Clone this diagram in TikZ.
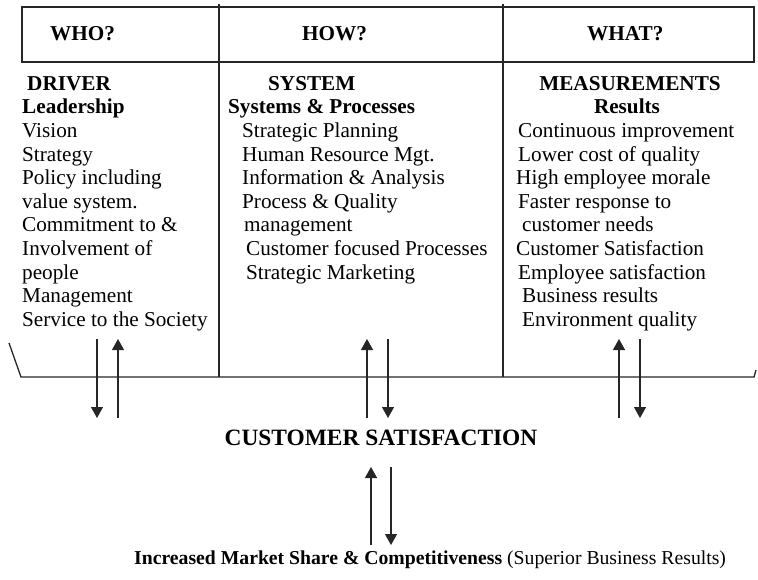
\documentclass[tikz,border=0pt]{standalone}
\usepackage{fontspec}
\setmainfont{Liberation Serif}
\usetikzlibrary{arrows.meta}
\begin{document}
\begin{tikzpicture}[x=1pt,y=-1pt,
  frame/.style={line width=1.3pt, draw=black!85},
  txt/.style={anchor=base west, inner sep=0pt, font=\fontsize{21.2}{24}\selectfont},
  btxt/.style={txt, font=\fontsize{21.2}{24}\selectfont\bfseries},
  flow/.style={line width=1.3pt, draw=black!85, -{Triangle[length=11pt,width=12pt]}}]
\useasboundingbox (0,0) rectangle (758,580);
% header box
\draw[frame] (22,7) rectangle (754,62);
\draw[frame] (219,4) -- (219,377);
\draw[frame] (503,4) -- (503,377);
\draw[frame] (9,343) -- (21,377) -- (754,377) -- (756,370);
% header labels
\node[btxt] (who) at (50,41) {WHO?};
\node[btxt] (how) at (302,41) {HOW?};
\node[btxt] (what) at (587,41) {WHAT?};
% left column
\node[btxt] (l0) at (27,90.5) {DRIVER};
\node[btxt] (l1) at (22,114) {Leadership};
\foreach \t [count=\i from 2] in {Vision,Strategy,Policy including,value system.,Commitment to \&,Involvement of,people,Management,Service to the Society}
  \node[txt] (l\i) at (22,{137.6+(\i-2)*23.6}) {\t};
% middle column
\node[btxt] (m0) at (268,90.5) {SYSTEM};
\node[btxt] (m1) at (228,114) {Systems \& Processes};
\foreach \t/\x [count=\i from 2] in {Strategic Planning/242,Human Resource Mgt./242,Information \& Analysis/242,Process \& Quality/242,management/244,Customer focused Processes/246,Strategic Marketing/246}
  \node[txt] (m\i) at (\x,{137.6+(\i-2)*23.6}) {\t};
% right column
\node[btxt,anchor=base] (r0) at (630,90.5) {MEASUREMENTS};
\node[btxt,anchor=base] (r1) at (627,114) {Results};
\foreach \t/\x [count=\i from 2] in {Continuous improvement/518,Lower cost of quality/518,High employee morale/516,Faster response to/518,customer needs/522,Customer Satisfaction/516,Employee satisfaction/518,Business results/522,Environment quality/522}
  \node[txt] (r\i) at (\x,{137.6+(\i-2)*23.6}) {\t};
% coordinates for arrows
\coordinate (a1t) at (97,339);  \coordinate (a1b) at (97,418);
\coordinate (a2t) at (118,339); \coordinate (a2b) at (118,418);
\coordinate (a3t) at (367,339); \coordinate (a3b) at (367,418);
\coordinate (a4t) at (388,339); \coordinate (a4b) at (388,418);
\coordinate (a5t) at (619,339); \coordinate (a5b) at (619,418);
\coordinate (a6t) at (640,339); \coordinate (a6b) at (640,418);
\coordinate (b1t) at (371,467); \coordinate (b1b) at (371,545);
\coordinate (b2t) at (391,467); \coordinate (b2b) at (391,545);
\draw[flow] (a1t) -- (a1b);
\draw[flow] (a2b) -- (a2t);
\draw[flow] (a3b) -- (a3t);
\draw[flow] (a4t) -- (a4b);
\draw[flow] (a5b) -- (a5t);
\draw[flow] (a6t) -- (a6b);
\draw[flow] (b1b) -- (b1t);
\draw[flow] (b2t) -- (b2b);
% bottom texts
\node[btxt,anchor=base,font=\fontsize{23.4}{26}\selectfont\bfseries] (cs) at (381,445) {CUSTOMER SATISFACTION};
\node[txt,font=\fontsize{19.7}{22}\selectfont] (ms) at (134,564) {\textbf{Increased Market Share \& Competitiveness} (Superior Business Results)};
\end{tikzpicture}
\end{document}
